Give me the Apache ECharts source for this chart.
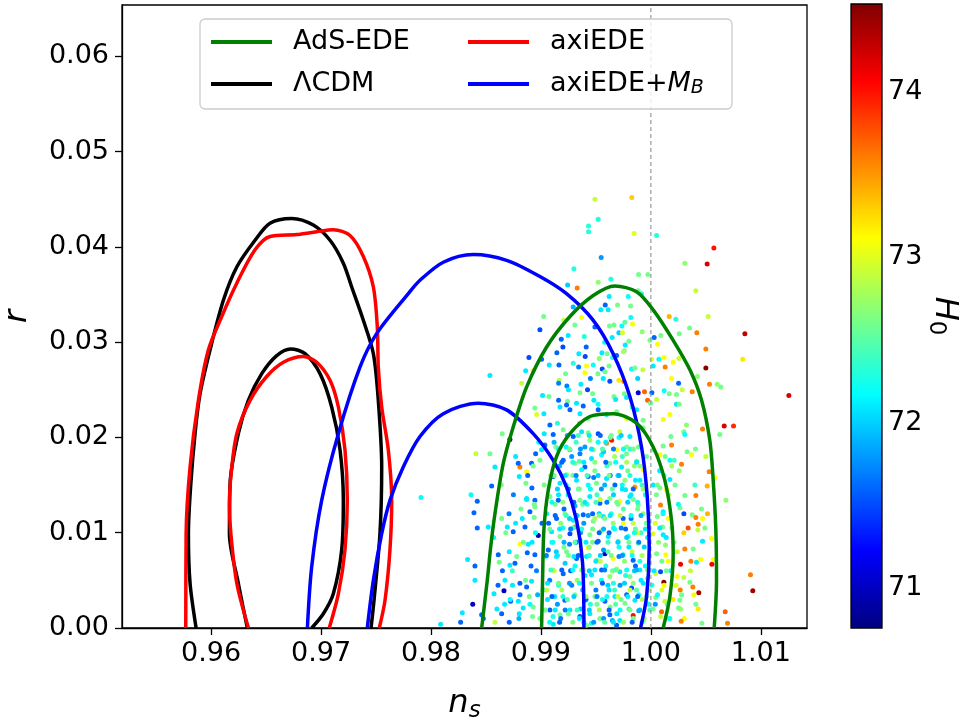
<!DOCTYPE html>
<html>
<head>
<meta charset="utf-8">
<script src="https://cdn.jsdelivr.net/npm/echarts@6/dist/echarts.min.js"></script>
<style>
  html, body { margin: 0; padding: 0; background: #fff; }
  #chart { width: 967px; height: 717px; }
</style>
</head>
<body>
<div id="chart"></div>
<script>
// ---- contour lines [n_s, r] ----
var lcdmOuter = [[0.95864,0],[0.95809,0.0047],[0.95794,0.0099],[0.95815,0.0150],[0.95855,0.0205],[0.95900,0.0246],[0.95991,0.0292],[0.96112,0.0344],[0.96234,0.0379],[0.96400,0.0407],[0.96536,0.0425],[0.96734,0.0430],[0.96930,0.0423],[0.97082,0.0407],[0.97203,0.0383],[0.97279,0.0358],[0.97385,0.0323],[0.97476,0.0288],[0.97521,0.0239],[0.97552,0.0169],[0.97536,0.0099],[0.97482,0.0029],[0.97455,0]];
var lcdmInner = [[0.96330,0],[0.96248,0.0047],[0.96167,0.0099],[0.96173,0.0152],[0.96248,0.0204],[0.96339,0.0239],[0.96461,0.0267],[0.96597,0.0286],[0.96724,0.0293],[0.96855,0.0288],[0.96991,0.0267],[0.97097,0.0232],[0.97173,0.0187],[0.97203,0.0134],[0.97188,0.0082],[0.97112,0.0036],[0.97021,0.0015],[0.96915,0]];
var axiOuter = [[0.95770,0],[0.95773,0.0099],[0.95809,0.0169],[0.95885,0.0239],[0.95976,0.0292],[0.96097,0.0327],[0.96234,0.0362],[0.96400,0.0397],[0.96536,0.0411],[0.96779,0.0413],[0.96961,0.0416],[0.97112,0.0418],[0.97264,0.0412],[0.97385,0.0390],[0.97476,0.0358],[0.97512,0.0316],[0.97521,0.0274],[0.97552,0.0232],[0.97612,0.0187],[0.97643,0.0134],[0.97627,0.0082],[0.97582,0.0029],[0.97530,0]];
var axiInner = [[0.96340,0],[0.96234,0.0047],[0.96180,0.0099],[0.96167,0.0130],[0.96185,0.0165],[0.96234,0.0204],[0.96355,0.0239],[0.96506,0.0264],[0.96658,0.0279],[0.96839,0.0285],[0.96961,0.0279],[0.97082,0.0260],[0.97158,0.0232],[0.97218,0.0187],[0.97239,0.0134],[0.97218,0.0082],[0.97158,0.0036],[0.97075,0]];
var mbOuter = [[0.96876,0],[0.96915,0.0064],[0.97006,0.0134],[0.97158,0.0204],[0.97355,0.0274],[0.97506,0.0309],[0.97794,0.0351],[0.97900,0.0365],[0.98112,0.0384],[0.98385,0.0392],[0.98688,0.0386],[0.98991,0.0369],[0.99233,0.0351],[0.99476,0.0323],[0.99657,0.0288],[0.99809,0.0243],[0.99915,0.0190],[0.99967,0.0138],[0.99985,0.0085],[0.99961,0.0033],[0.99906,0]];
var mbInner = [[0.97421,0],[0.97476,0.0050],[0.97552,0.0099],[0.97627,0.0134],[0.97748,0.0169],[0.97900,0.0201],[0.98112,0.0225],[0.98430,0.0236],[0.98688,0.0229],[0.98930,0.0204],[0.99112,0.0176],[0.99233,0.0148],[0.99324,0.0113],[0.99379,0.0068],[0.99391,0]];
var adsOuter = [[0.98461,0],[0.98512,0.0050],[0.98543,0.0085],[0.98582,0.0120],[0.98658,0.0173],[0.98748,0.0211],[0.98870,0.0253],[0.99052,0.0295],[0.99264,0.0327],[0.99476,0.0349],[0.99673,0.0359],[0.99870,0.0353],[1.00021,0.0334],[1.00203,0.0302],[1.00355,0.0271],[1.00461,0.0239],[1.00536,0.0197],[1.00567,0.0155],[1.00591,0.0103],[1.00597,0.0050],[1.00576,0]];
var adsInner = [[0.99006,0],[0.99015,0.0050],[0.99027,0.0103],[0.99067,0.0145],[0.99142,0.0180],[0.99264,0.0204],[0.99445,0.0222],[0.99657,0.0225],[0.99870,0.0215],[1.00021,0.0190],[1.00127,0.0155],[1.00188,0.0113],[1.00203,0.0078],[1.00173,0.0033],[1.00112,0]];
var vline = [[1.0, 0], [1.0, 0.0654]];

// ---- samples [n_s, r, H0] ----
var ptsTop = [
[0.99491,0.0450,72.9],[0.99827,0.0452,73.3],[0.99521,0.0429,72.3],[0.99433,0.0422,72.3],[0.99433,0.0416,72.3],[0.99848,0.0414,73.0],
[0.99548,0.0389,71.8],[0.99300,0.0377,72.3],[0.99243,0.0360,72.0],[0.99330,0.0357,73.6],[0.99521,0.0363,72.7],[0.99636,0.0366,72.3],
[0.99888,0.0371,72.6],[0.99973,0.0371,72.6],[0.99621,0.0348,72.1],[0.99585,0.0339,71.6],[0.99545,0.0334,72.1],[0.99612,0.0334,72.1],
[0.99697,0.0339,72.6],[0.99815,0.0338,72.6],[0.99915,0.0351,72.2],[0.99794,0.0348,72.2],[0.99818,0.0326,72.2],[0.99294,0.0337,71.9],
[0.99025,0.0327,72.6],[0.99209,0.0323,72.9],[0.99370,0.0326,73.1],[0.99309,0.0318,72.6],[0.98991,0.0313,71.5],[0.99248,0.0307,72.1],
[0.99394,0.0306,72.3],[0.99491,0.0316,71.6],[0.99624,0.0317,72.6],[0.99664,0.0318,72.6],[0.99736,0.0317,72.2],[0.99764,0.0321,72.5],
[0.99833,0.0319,73.1],[0.99709,0.0310,72.0],[0.99648,0.0305,72.1],[0.99742,0.0310,73.0],[0.99921,0.0311,72.7],[0.99991,0.0302,72.6],
[0.99185,0.0303,71.6],[0.99200,0.0295,71.5],[0.99145,0.0289,71.6],[0.99412,0.0295,71.6],[0.99403,0.0285,71.5],[0.99345,0.0288,72.1],
[0.98891,0.0284,71.5],[0.99006,0.0282,71.6],[0.98861,0.0270,72.1],[0.98930,0.0270,73.2],[0.99076,0.0276,72.1],[0.99164,0.0276,71.6],
[0.99294,0.0278,72.3],[0.99343,0.0274,71.7],[0.99415,0.0275,73.1],[0.99476,0.0276,72.2],[0.99530,0.0283,72.7],[0.99555,0.0289,72.1],
[0.99603,0.0288,72.6],[0.99652,0.0284,72.3],[0.99688,0.0286,71.6],[0.99767,0.0297,72.1],[0.99758,0.0291,72.6],[0.99800,0.0301,72.6],
[0.99558,0.0272,71.5],[0.99582,0.0269,72.6],[0.99518,0.0267,72.6],[0.99400,0.0268,73.1],[0.99567,0.0262,72.1],[0.99627,0.0259,71.5],
[0.99709,0.0260,73.2],[0.99755,0.0259,73.6],[0.99824,0.0272,72.2],[0.99927,0.0271,72.9],[0.99166,0.0260,72.8],[0.99224,0.0267,72.6],
[0.99161,0.0257,71.7],[0.99236,0.0254,71.7],[0.99364,0.0256,72.1],[0.99424,0.0250,71.5],[0.99470,0.0246,72.6],[0.99355,0.0247,72.6],
[0.99015,0.0244,72.1],[0.99073,0.0243,72.6],[0.99161,0.0239,71.6],[0.99242,0.0238,72.6],[0.98536,0.0265,72.1],[0.98825,0.0257,72.9],
[0.99324,0.0236,72.1],[0.99385,0.0233,71.6],[0.99482,0.0239,72.1],[0.99664,0.0243,72.6],[0.99758,0.0246,72.6],[0.99779,0.0242,72.1],
[0.99885,0.0247,71.1],[0.99942,0.0248,73.7],[0.99970,0.0239,73.7],
[0.9915,0.0215,72.3],[0.9925,0.0250,72.1],[0.9935,0.0215,72.6],[0.9945,0.0262,71.7],[0.9952,0.0235,72.2],[0.9962,0.0275,72.6],
[0.9968,0.0240,72.1],[0.9975,0.0290,72.8],[0.9983,0.0232,72.4],[0.9988,0.0262,72.0],[0.9993,0.0210,72.6],[0.9958,0.0300,72.2]
];
var ptsRight = [
[1.00052,0.0412,72.3],[1.00573,0.0399,74.0],[1.00512,0.0382,74.2],[1.00309,0.0383,72.7],[1.00409,0.0354,72.9],[0.99885,0.0354,72.6],
[1.00167,0.0327,73.4],[1.00227,0.0324,72.3],[1.00521,0.0327,72.9],[1.00352,0.0315,72.6],[1.00418,0.0310,73.6],[1.00258,0.0309,72.6],
[1.00091,0.0307,72.6],[1.00030,0.0305,71.6],[1.00855,0.0309,74.3],[1.00500,0.0293,73.6],[1.00061,0.0298,73.1],[1.00500,0.0273,74.5],
[1.00836,0.0282,73.2],[1.00255,0.0283,72.9],[1.00121,0.0284,73.1],[1.00130,0.0274,73.6],[1.00203,0.0279,73.1],[1.00073,0.0282,72.2],
[1.00006,0.0282,73.0],[1.00021,0.0275,72.1],[0.99855,0.0273,72.6],[1.00188,0.0262,73.1],[1.00252,0.0257,71.6],[1.00424,0.0264,72.7],
[1.00533,0.0256,73.6],[1.00603,0.0256,72.7],[1.00636,0.0253,72.6],[1.00376,0.0248,73.6],[1.00285,0.0250,72.9],[1.00121,0.0249,72.2],
[1.00167,0.0246,72.6],[1.00233,0.0245,72.6],[1.00009,0.0247,71.6],[1.00052,0.0240,72.9],[0.99997,0.0236,72.6],[1.00233,0.0235,72.1],
[1.01255,0.0244,74.2],
[1.00667,0.0212,74.2],[1.00752,0.0212,73.9],[1.00627,0.0203,72.6],[1.00470,0.0209,73.6],[1.00324,0.0213,72.7],[1.00300,0.0206,72.6],
[1.00309,0.0203,72.2],[1.00258,0.0235,72.6],[1.00173,0.0224,73.1],[1.00112,0.0219,73.1],[1.00182,0.0201,72.6],[1.00188,0.0192,73.6],
[1.00112,0.0191,72.6],[1.00082,0.0182,73.1],[1.00021,0.0187,72.6],[1.00173,0.0176,72.2],[1.00212,0.0176,72.4],[1.00279,0.0172,73.6],
[1.00258,0.0165,72.7],[1.00406,0.0188,72.6],[1.00370,0.0182,73.1],[1.00500,0.0180,72.9],[1.00530,0.0164,73.6],[1.00512,0.0149,73.4],
[1.00582,0.0158,73.1],[1.00682,0.0134,72.7],[1.00409,0.0139,73.6],[1.00309,0.0139,72.6],[1.00173,0.0156,72.1],[1.00143,0.0145,73.1],
[1.00088,0.0129,73.6],[1.00264,0.0126,72.6],[1.00300,0.0120,71.5],[1.00376,0.0119,72.6],[1.00409,0.0116,73.6],[1.00430,0.0109,73.6],
[1.00515,0.0120,73.4],[1.00470,0.0115,73.1],[1.00339,0.0105,73.8],[1.00427,0.0103,72.9],[1.00491,0.0105,72.6],[1.00470,0.0091,72.1],
[1.00552,0.0094,73.1],[1.00309,0.0083,73.6],[1.00385,0.0083,72.6],[1.00270,0.0067,74.1],[1.00364,0.0070,73.6],[1.00415,0.0069,72.1],
[1.00452,0.0072,73.1],[1.00555,0.0067,74.1],[1.00567,0.0072,73.1],[1.00239,0.0054,73.1],[1.00300,0.0053,72.9],[1.00355,0.0048,72.6],
[1.00382,0.0043,73.6],[1.00436,0.0037,74.4],[1.00391,0.0035,73.1],[1.00267,0.0040,73.6],[1.00279,0.0035,72.6],[1.00409,0.0025,72.6],
[1.00264,0.0029,72.6],[1.00252,0.0021,72.6],[1.00303,0.0010,73.1],[1.00276,0.0007,73.6],[1.00464,0.0005,72.6],[1.00676,0.0017,73.7],
[1.00697,0.0005,73.6],[1.00906,0.0056,73.6],[1.00927,0.0039,74.4],[1.00118,0.0048,74.5],[1.00088,0.0059,71.5],[1.00043,0.0057,73.0],
[1.00097,0.0017,73.7],[1.00127,0.0028,72.9],[1.00173,0.0010,72.6],[1.00045,0.0032,72.6],[1.00052,0.0078,72.6],[1.00136,0.0077,73.1],
[1.00158,0.0070,73.1],[1.00133,0.0087,72.7],[1.00112,0.0098,72.1],[1.00106,0.0106,72.6],[1.00021,0.0099,73.0],[1.00058,0.0117,72.6],
[1.00112,0.0122,72.1],[1.00021,0.0150,72.1],[1.00082,0.0147,72.6],
[1.0002,0.0020,72.6],[1.0003,0.0060,72.1],[1.0004,0.0110,73.0],[1.0005,0.0140,72.6],[1.0006,0.0035,72.2],[1.0007,0.0090,72.7],
[1.0008,0.0165,72.1],[1.0009,0.0012,72.9],[1.0010,0.0070,72.6],[1.0011,0.0120,72.2],[1.0012,0.0045,73.1],[1.0013,0.0180,72.6],
[1.0014,0.0095,72.1],[1.0015,0.0025,72.6],[1.0016,0.0140,72.8],[1.0018,0.0060,72.2],[1.0019,0.0105,72.6],[1.0020,0.0030,73.2],
[1.0022,0.0150,72.6],[1.0024,0.0080,72.9],
[1.0001,0.0045,72.3],[1.0004,0.0025,71.8],[1.0006,0.0150,72.6],[1.0008,0.0105,72.1],[1.0010,0.0040,73.0],[1.0012,0.0160,72.4],
[1.0014,0.0060,72.6],[1.0016,0.0115,73.1],[1.0017,0.0010,72.2],[1.0019,0.0170,72.8],[1.0021,0.0090,72.6],[1.0023,0.0045,73.0],
[1.0025,0.0130,72.2],[1.0027,0.0020,72.7],[1.0030,0.0100,73.3],[1.0033,0.0185,72.6],[1.0036,0.0060,72.9],[1.0040,0.0150,72.4],
[1.0043,0.0020,73.2],[1.0046,0.0125,72.6]
];
var ptsLeft = [
[0.97909,0.0137,72.2],[0.98088,0.0004,72.1],[0.98270,0.0006,71.6],[0.98285,0.0016,72.1],[0.98333,0.0072,72.1],[0.98552,0.0149,71.6],
[0.98521,0.0106,72.1],[0.98461,0.0014,71.6],
[0.98648,0.0204,72.6],[0.98409,0.0183,72.9],[0.98536,0.0183,72.6],[0.98582,0.0169,72.1],[0.98364,0.0140,72.2],[0.98421,0.0133,71.6],
[0.98391,0.0121,71.6],[0.98421,0.0105,71.6],[0.98400,0.0065,71.6],[0.98400,0.0050,72.1],[0.98380,0.0025,71.0],[0.98476,0.0010,71.6],
[0.98573,0.0036,72.1],[0.98664,0.0039,71.0],[0.98643,0.0015,71.6],[0.98582,0.0006,72.9],[0.98712,0.0006,71.6],[0.98803,0.0015,72.1],
[0.98724,0.0028,71.6],[0.98794,0.0028,72.1],[0.98673,0.0050,72.1],[0.98742,0.0045,72.1],[0.98809,0.0047,71.6],[0.98870,0.0043,71.6],
[0.98915,0.0049,72.1],[0.98894,0.0033,72.6],[0.98930,0.0022,72.6],[0.98839,0.0021,72.1],[0.98924,0.0012,72.6],[0.98621,0.0069,72.6],
[0.98718,0.0066,72.1],[0.98764,0.0068,71.6],[0.98612,0.0077,71.6],[0.98712,0.0080,72.1],[0.98809,0.0088,73.1],[0.98885,0.0088,72.1],
[0.98876,0.0079,71.6],[0.98945,0.0077,71.6],[0.98976,0.0097,71.0],[0.98855,0.0106,71.6],[0.98748,0.0101,71.6],[0.98770,0.0110,72.1],
[0.98694,0.0106,72.1],[0.98643,0.0115,72.6],[0.98900,0.0122,71.6],[0.98939,0.0116,72.6],[0.98945,0.0127,72.6],[0.98818,0.0125,72.6],
[0.98870,0.0136,72.1],[0.98945,0.0134,71.6],[0.98918,0.0147,71.6],[0.98864,0.0152,72.6],[0.98803,0.0159,72.1],[0.98809,0.0169,73.6],
[0.98870,0.0164,73.1],[0.98915,0.0173,71.6],[0.98952,0.0183,71.6],[0.98991,0.0176,72.6],[0.99006,0.0187,72.1],[0.99036,0.0192,71.6],
[0.99030,0.0204,72.1],[0.99082,0.0213,71.6],[0.99027,0.0225,72.1],[0.98961,0.0224,73.0],[0.98945,0.0231,72.6],[0.98718,0.0198,71.0],
[0.98794,0.0173,71.6],[0.99173,0.0232,72.1],[0.99233,0.0234,71.6],[0.99112,0.0203,71.6],[0.99136,0.0190,72.6],
[0.9860,0.0020,72.1],[0.9865,0.0060,71.6],[0.9868,0.0100,72.6],[0.9872,0.0030,72.2],[0.9875,0.0140,71.7],[0.9878,0.0075,72.6],
[0.9880,0.0010,71.9],[0.9883,0.0115,72.1],[0.9886,0.0050,72.6],[0.9888,0.0160,71.6],[0.9890,0.0025,72.2],[0.9892,0.0090,72.1],
[0.9894,0.0130,72.6],[0.9896,0.0060,71.7],[0.9898,0.0195,72.2],[0.9899,0.0010,72.6],[0.9901,0.0110,71.6],[0.9902,0.0040,72.1],
[0.9903,0.0150,72.6],[0.9904,0.0075,72.3],
[0.9857,0.0095,72.2],[0.9861,0.0045,71.6],[0.9864,0.0150,72.6],[0.9867,0.0025,72.1],[0.9871,0.0120,71.7],[0.9874,0.0060,72.4],
[0.9877,0.0180,72.1],[0.9881,0.0035,71.6],[0.9884,0.0090,72.6],[0.9887,0.0135,72.1],[0.9891,0.0065,71.6],[0.9893,0.0170,72.6],
[0.9895,0.0100,72.2],[0.9897,0.0035,71.9]
];
var ptsCore = [
[0.99264,0.0229,71.6],[0.99355,0.0225,72.1],[0.99430,0.0220,72.6],[0.99521,0.0229,71.6],[0.99597,0.0224,72.1],[0.99688,0.0227,72.6],
[0.99779,0.0220,73.0],[0.99870,0.0229,72.1],[0.99930,0.0218,72.6],[0.99597,0.0194,73.6],[0.99643,0.0197,74.0],
[0.99203,0.0208,72.6],[0.99294,0.0201,71.6],[0.99370,0.0206,72.1],[0.99445,0.0197,72.7],[0.99521,0.0204,71.5],[0.99718,0.0206,72.9],
[0.99809,0.0201,72.1],[0.99885,0.0190,72.6],[0.99264,0.0187,72.1],[0.99355,0.0183,71.7],[0.99476,0.0187,72.6],[0.99552,0.0182,72.2],
[0.99688,0.0187,73.1],[0.99779,0.0183,72.6],[0.99203,0.0176,71.6],[0.99309,0.0173,72.6],[0.99400,0.0169,71.6],[0.99627,0.0173,72.6],
[0.99733,0.0169,72.1],[0.99870,0.0175,72.6],[0.99930,0.0166,73.1],
[0.99112,0.0159,71.6],[0.99173,0.0152,72.1],[0.99233,0.0161,72.6],[0.99324,0.0155,72.1],[0.99430,0.0159,71.6],[0.99506,0.0152,72.6],
[0.99597,0.0157,72.1],[0.99673,0.0150,71.6],[0.99764,0.0155,72.7],[0.99855,0.0148,73.5],[0.99900,0.0155,72.1],[0.99082,0.0138,72.6],
[0.99158,0.0134,71.6],[0.99248,0.0140,72.1],[0.99355,0.0134,72.6],[0.99445,0.0138,72.1],[0.99536,0.0131,71.6],[0.99627,0.0136,72.6],
[0.99718,0.0133,73.1],[0.99809,0.0138,72.1],[0.99885,0.0129,72.6],
[0.99052,0.0120,72.1],[0.99142,0.0115,71.6],[0.99218,0.0120,72.6],[0.99294,0.0113,72.1],[0.99385,0.0119,71.6],[0.99476,0.0112,72.6],
[0.99567,0.0117,72.1],[0.99657,0.0110,72.7],[0.99748,0.0115,71.6],[0.99839,0.0110,72.9],[0.99309,0.0106,73.5],[0.99097,0.0101,72.1],
[0.99173,0.0096,72.6],[0.99264,0.0099,71.5],[0.99355,0.0092,72.1],[0.99445,0.0098,72.6],[0.99521,0.0091,71.6],[0.99612,0.0096,72.1],
[0.99703,0.0091,72.6],[0.99794,0.0096,72.2],[0.99885,0.0089,72.6],[0.99582,0.0078,71.0],[0.99430,0.0084,73.1],
[0.99067,0.0082,71.6],[0.99142,0.0075,72.1],[0.99233,0.0080,72.6],[0.99324,0.0073,71.6],[0.99415,0.0075,72.1],[0.99506,0.0071,72.6],
[0.99657,0.0073,73.1],[0.99748,0.0077,72.1],[0.99839,0.0071,71.6],[0.99112,0.0061,72.6],[0.99203,0.0057,71.6],[0.99264,0.0047,73.1],
[0.99370,0.0061,72.6],[0.99460,0.0056,72.1],[0.99552,0.0061,71.6],[0.99627,0.0054,72.7],[0.99718,0.0059,72.1],[0.99809,0.0054,72.6],
[0.99824,0.0042,71.5],[0.99900,0.0061,72.1],
[0.99052,0.0040,72.9],[0.99127,0.0033,72.1],[0.99218,0.0029,71.6],[0.99309,0.0035,72.6],[0.99400,0.0029,72.1],[0.99491,0.0033,72.6],
[0.99582,0.0028,71.6],[0.99673,0.0033,72.1],[0.99764,0.0026,72.6],[0.99855,0.0029,72.1],[0.99082,0.0019,71.6],[0.99173,0.0014,72.6],
[0.99264,0.0019,72.1],[0.99355,0.0012,71.6],[0.99445,0.0015,72.1],[0.99536,0.0010,72.6],[0.99627,0.0014,71.6],[0.99718,0.0008,72.1],
[0.99839,0.0013,74.0],[0.99930,0.0008,72.6],[0.99112,0.0004,72.1],[0.99415,0.0003,72.6],[0.99688,0.0003,71.6],
[0.9911,0.0012,72.3],[0.9915,0.0025,71.8],[0.9919,0.0040,72.8],[0.9922,0.0068,72.0],[0.9926,0.0088,71.7],[0.9929,0.0105,72.4],
[0.9931,0.0128,71.9],[0.9934,0.0146,72.5],[0.9937,0.0166,72.2],[0.9940,0.0190,71.8],[0.9943,0.0205,72.6],[0.9946,0.0178,72.1],
[0.9948,0.0158,71.7],[0.9951,0.0140,72.4],[0.9953,0.0120,72.0],[0.9955,0.0102,72.7],[0.9957,0.0082,71.8],[0.9959,0.0065,72.3],
[0.9961,0.0045,72.0],[0.9963,0.0022,72.6],[0.9965,0.0008,71.9],[0.9967,0.0040,72.4],[0.9969,0.0062,72.8],[0.9971,0.0085,72.2],
[0.9973,0.0105,71.7],[0.9975,0.0125,72.5],[0.9977,0.0145,72.1],[0.9979,0.0165,72.6],[0.9981,0.0188,72.3],[0.9983,0.0080,72.9],
[0.9985,0.0060,72.0],[0.9987,0.0040,72.5],[0.9989,0.0018,71.8],[0.9991,0.0100,72.4],[0.9993,0.0120,72.7],[0.9995,0.0140,72.2],
[0.9997,0.0052,72.6],[0.9908,0.0050,71.7],[0.9910,0.0090,72.2],[0.9913,0.0130,72.6],[0.9917,0.0170,71.9],[0.9920,0.0105,72.2],
[0.9924,0.0030,72.5],[0.9927,0.0060,71.6],[0.9930,0.0075,72.1],[0.9933,0.0050,72.7],[0.9936,0.0020,72.0],[0.9939,0.0110,71.8],
[0.9942,0.0130,72.3],[0.9944,0.0060,72.0],[0.9947,0.0090,72.6],[0.9950,0.0040,71.7],[0.9952,0.0195,72.2],[0.9954,0.0070,72.9],
[0.9956,0.0030,72.2],[0.9958,0.0150,71.9],[0.9960,0.0170,72.4],[0.9962,0.0100,71.6],[0.9964,0.0120,72.3],[0.9966,0.0140,72.0],
[0.9968,0.0025,72.5],[0.9970,0.0160,72.1],[0.9972,0.0045,71.8],[0.9974,0.0180,72.4],[0.9976,0.0070,72.7],[0.9978,0.0095,72.0],
[0.9980,0.0020,72.3],[0.9982,0.0115,71.7],[0.9984,0.0135,72.6],[0.9986,0.0155,72.1],[0.9988,0.0100,73.0],[0.9990,0.0070,72.3],
[0.9992,0.0030,72.8],[0.9994,0.0085,72.0],[0.9996,0.0110,72.5],[0.9998,0.0025,72.2],[0.9914,0.0080,72.0],[0.9918,0.0110,72.7],
[0.9923,0.0150,72.2],[0.9928,0.0180,71.8],[0.9932,0.0195,72.4],[0.9938,0.0040,71.9],[0.9945,0.0025,72.3],[0.9949,0.0115,72.8],
[0.9957,0.0185,72.0],[0.9963,0.0200,72.5],[0.9971,0.0200,72.2],[0.9978,0.0035,71.6],[0.9985,0.0170,72.7],
[0.9906,0.0030,72.1],[0.9907,0.0110,71.6],[0.9909,0.0160,72.6],[0.9912,0.0060,72.9],[0.9912,0.0195,71.9],[0.9916,0.0045,72.3],
[0.9916,0.0140,72.1],[0.9918,0.0010,71.7],[0.9921,0.0085,72.6],[0.9921,0.0125,71.6],[0.9923,0.0190,72.2],[0.9925,0.0015,72.6],
[0.9926,0.0115,72.0],[0.9928,0.0045,71.7],[0.9929,0.0160,72.6],[0.9931,0.0065,72.2],[0.9932,0.0090,71.6],[0.9935,0.0010,72.1],
[0.9935,0.0175,72.5],[0.9936,0.0100,71.8],[0.9938,0.0130,72.6],[0.9940,0.0055,72.1],[0.9941,0.0030,71.6],[0.9943,0.0150,72.2],
[0.9944,0.0085,72.7],[0.9946,0.0005,72.2],[0.9947,0.0120,71.6],[0.9949,0.0165,72.6],[0.9950,0.0070,72.1],[0.9951,0.0025,72.6],
[0.9953,0.0100,71.6],[0.9954,0.0135,72.9],[0.9955,0.0050,72.2],[0.9957,0.0010,71.8],[0.9958,0.0115,72.6],[0.9959,0.0195,72.1],
[0.9961,0.0080,72.5],[0.9962,0.0040,72.1],[0.9963,0.0160,71.6],[0.9965,0.0060,72.6],[0.9966,0.0105,72.2],[0.9967,0.0180,72.8],
[0.9969,0.0015,72.1],[0.9970,0.0130,72.6],[0.9971,0.0075,71.7],[0.9973,0.0030,72.6],[0.9974,0.0150,72.2],[0.9975,0.0110,73.1],
[0.9977,0.0055,72.3],[0.9978,0.0190,72.6],[0.9980,0.0085,72.1],[0.9981,0.0040,72.9],[0.9982,0.0140,72.1],[0.9984,0.0010,72.6],
[0.9985,0.0100,72.2],[0.9986,0.0065,71.6],[0.9988,0.0125,72.6],[0.9989,0.0035,72.2],[0.9990,0.0170,72.7],[0.9991,0.0050,72.1],
[0.9992,0.0150,72.4],[0.9994,0.0010,72.8],[0.9995,0.0065,72.2],[0.9996,0.0180,72.6],[0.9997,0.0095,72.1],[0.9998,0.0040,72.9]
];
var ptsDense = [
[0.9908,0.0006,72.2],[0.9917,0.0006,71.6],[0.9929,0.0006,72.6],[0.9939,0.0006,72.1],[0.9948,0.0006,71.8],[0.9958,0.0006,72.5],[0.9966,0.0006,72.1],[0.9975,0.0006,72.7],[0.9983,0.0006,71.6],[0.9992,0.0006,72.3],
[0.9904,0.0019,72.6],[0.9913,0.0019,72.1],[0.9922,0.0019,71.7],[0.9933,0.0019,72.4],[0.9944,0.0019,72.0],[0.9953,0.0019,72.8],[0.9962,0.0019,71.6],[0.9972,0.0019,72.2],[0.9981,0.0019,72.6],[0.9990,0.0019,71.9],[0.9999,0.0019,72.4],
[0.9910,0.0033,71.6],[0.9920,0.0033,72.3],[0.9930,0.0033,72.0],[0.9941,0.0033,72.7],[0.9951,0.0033,71.7],[0.9960,0.0033,72.2],[0.9970,0.0033,72.9],[0.9979,0.0033,72.1],[0.9988,0.0033,71.6],[0.9996,0.0033,72.6],
[0.9906,0.0047,72.1],[0.9916,0.0047,72.6],[0.9926,0.0047,71.8],[0.9935,0.0047,72.2],[0.9946,0.0047,72.6],[0.9956,0.0047,71.6],[0.9966,0.0047,72.3],[0.9976,0.0047,72.0],[0.9984,0.0047,72.7],[0.9993,0.0047,72.1],
[0.9909,0.0061,72.4],[0.9919,0.0061,71.6],[0.9929,0.0061,72.2],[0.9939,0.0061,72.9],[0.9949,0.0061,72.1],[0.9958,0.0061,71.7],[0.9968,0.0061,72.5],[0.9978,0.0061,72.2],[0.9987,0.0061,71.9],[0.9997,0.0061,72.6],
[0.9905,0.0076,71.7],[0.9915,0.0076,72.1],[0.9925,0.0076,72.6],[0.9934,0.0076,71.6],[0.9944,0.0076,72.3],[0.9954,0.0076,72.0],[0.9964,0.0076,72.6],[0.9974,0.0076,71.8],[0.9983,0.0076,72.2],[0.9992,0.0076,72.8],
[0.9911,0.0090,72.2],[0.9921,0.0090,71.9],[0.9931,0.0090,72.5],[0.9941,0.0090,72.1],[0.9951,0.0090,71.6],[0.9961,0.0090,72.4],[0.9970,0.0090,72.0],[0.9980,0.0090,72.6],[0.9989,0.0090,71.7],
[0.9908,0.0104,72.6],[0.9917,0.0104,72.1],[0.9927,0.0104,71.7],[0.9937,0.0104,72.3],[0.9947,0.0104,72.6],[0.9957,0.0104,71.9],[0.9967,0.0104,72.2],[0.9977,0.0104,71.6],[0.9986,0.0104,72.5],[0.9995,0.0104,72.1],
[0.9913,0.0118,71.6],[0.9923,0.0118,72.4],[0.9933,0.0118,72.0],[0.9943,0.0118,71.8],[0.9953,0.0118,72.6],[0.9963,0.0118,72.1],[0.9972,0.0118,72.9],[0.9982,0.0118,72.2],[0.9991,0.0118,71.9],
[0.9910,0.0132,72.2],[0.9920,0.0132,72.7],[0.9930,0.0132,71.6],[0.9940,0.0132,72.1],[0.9950,0.0132,72.4],[0.9960,0.0132,71.7],[0.9969,0.0132,72.6],[0.9979,0.0132,72.0],[0.9988,0.0132,72.3],
[0.9915,0.0146,72.0],[0.9925,0.0146,71.6],[0.9935,0.0146,72.6],[0.9945,0.0146,72.2],[0.9955,0.0146,71.8],[0.9965,0.0146,72.5],[0.9974,0.0146,72.1],[0.9984,0.0146,71.6],[0.9993,0.0146,72.7],
[0.9912,0.0160,72.6],[0.9922,0.0160,72.1],[0.9932,0.0160,71.7],[0.9942,0.0160,72.4],[0.9952,0.0160,72.0],[0.9962,0.0160,72.6],[0.9971,0.0160,71.9],[0.9981,0.0160,72.3],
[0.9919,0.0174,71.6],[0.9929,0.0174,72.3],[0.9939,0.0174,72.1],[0.9949,0.0174,72.7],[0.9959,0.0174,71.6],[0.9968,0.0174,72.2],[0.9978,0.0174,72.8],[0.9987,0.0174,72.1],
[0.9916,0.0188,72.2],[0.9926,0.0188,72.6],[0.9936,0.0188,71.8],[0.9946,0.0188,72.1],[0.9956,0.0188,72.5],[0.9966,0.0188,71.7],[0.9975,0.0188,72.2],[0.9984,0.0188,72.6],
[0.9924,0.0202,71.9],[0.9934,0.0202,72.4],[0.9944,0.0202,72.1],[0.9954,0.0202,71.6],[0.9964,0.0202,72.6],[0.9973,0.0202,72.0]
];

// ---- axes ----
var xTicks = [0.96, 0.97, 0.98, 0.99, 1.00, 1.01];
var yTicks = [0, 0.01, 0.02, 0.03, 0.04, 0.05, 0.06];
var cbTicks = [71, 72, 73, 74];
var xRange = [0.9519, 1.0142];
var yRange = [0, 0.0654];
var cbRange = [70.758, 74.532];

// matplotlib jet
function jet(t) {
  function c(v) { return Math.max(0, Math.min(1, v)); }
  var r = c(1.5 - Math.abs(4 * t - 3));
  var g = c(1.5 - Math.abs(4 * t - 2));
  var b = c(1.5 - Math.abs(4 * t - 1));
  return 'rgb(' + Math.round(r * 255) + ',' + Math.round(g * 255) + ',' + Math.round(b * 255) + ')';
}
var jetColors = [];
var jetStops = [];
for (var i = 0; i <= 32; i++) {
  jetColors.push(jet(i / 32));
  jetStops.push({ offset: i / 32, color: jet(1 - i / 32) });
}

var FONT = 'DejaVu Sans';
var FS = 27;
var chart = echarts.init(document.getElementById('chart'));

function contour(name, color, data) {
  return {
    name: name, type: 'line', data: data, color: color,
    showSymbol: false, symbol: 'none', smooth: 0.3, z: 5,
    lineStyle: { color: color, width: 3.5 }, silent: true, animation: false
  };
}

var allPts = ptsTop.concat(ptsRight, ptsLeft, ptsCore, ptsDense);

var legendText = {
  fontFamily: FONT, fontSize: FS, color: '#000', lineHeight: 28, padding: [0, 0, 0, 16],
  rich: {
    a: { fontFamily: FONT, fontSize: FS, color: '#000', lineHeight: 28 },
    m: { fontFamily: FONT, fontSize: FS, fontStyle: 'italic', color: '#000', lineHeight: 28 },
    b: { fontFamily: FONT, fontSize: 19, fontStyle: 'italic', color: '#000', verticalAlign: 'bottom', padding: [13, 0, 0, 0] }
  }
};

var option = {
  animation: false,
  textStyle: { fontFamily: FONT },
  grid: [
    { left: 122, top: 5, width: 685, height: 623, outerBoundsMode: 'none', containLabel: false,
      show: true, borderColor: '#000', borderWidth: 1.3, backgroundColor: 'transparent' },
    { left: 851, top: 4, width: 31, height: 624, outerBoundsMode: 'none', containLabel: false }
  ],
  xAxis: [
    {
      type: 'value', min: xRange[0], max: xRange[1], gridIndex: 0,
      name: '{i|n}{s|s}', nameLocation: 'middle', nameGap: 56,
      nameTextStyle: { rich: {
        i: { fontFamily: FONT, fontStyle: 'italic', fontSize: 32, color: '#000' },
        s: { fontFamily: FONT, fontStyle: 'italic', fontSize: 23, color: '#000', verticalAlign: 'bottom', padding: [16, 0, 0, 0] }
      } },
      axisLine: { show: true, onZero: false, lineStyle: { color: '#000', width: 1.3 } },
      axisTick: { show: true, length: 7, customValues: xTicks, lineStyle: { color: '#000', width: 1.3 } },
      axisLabel: { customValues: xTicks, fontSize: FS, color: '#000', margin: 12, formatter: function (v) { return v.toFixed(2); } },
      splitLine: { show: false }
    },
    { type: 'value', gridIndex: 1, min: 0, max: 1, show: false }
  ],
  yAxis: [
    {
      type: 'value', min: yRange[0], max: yRange[1], gridIndex: 0,
      name: 'r', nameLocation: 'middle', nameGap: 88, nameRotate: 90,
      nameTextStyle: { fontFamily: FONT, fontStyle: 'italic', fontSize: 32, color: '#000' },
      axisLine: { show: true, onZero: false, lineStyle: { color: '#000', width: 1.3 } },
      axisTick: { show: true, length: 7, customValues: yTicks, lineStyle: { color: '#000', width: 1.3 } },
      axisLabel: { customValues: yTicks, fontSize: FS, color: '#000', margin: 13, formatter: function (v) { return v.toFixed(2); } },
      splitLine: { show: false }
    },
    {
      type: 'value', gridIndex: 1, position: 'right', min: cbRange[0], max: cbRange[1],
      axisLine: { show: false },
      axisTick: { show: true, length: 7, customValues: cbTicks, lineStyle: { color: '#000', width: 1.3 } },
      axisLabel: { customValues: cbTicks, fontSize: FS, color: '#000', margin: 6 },
      splitLine: { show: false }
    }
  ],
  visualMap: {
    type: 'continuous', show: false, min: cbRange[0], max: cbRange[1],
    dimension: 2, seriesIndex: 0, inRange: { color: jetColors }
  },
  legend: [
    {
      data: ['AdS-EDE', 'ΛCDM'], orient: 'vertical', left: 211, top: 28, padding: 0, z: 20,
      icon: 'rect', itemWidth: 61, itemHeight: 4, itemGap: 14,
      textStyle: legendText
    },
    {
      data: ['axiEDE', 'axiEDE+M_B'], orient: 'vertical', left: 468, top: 28, padding: 0, z: 20,
      icon: 'rect', itemWidth: 61, itemHeight: 4, itemGap: 14,
      formatter: function (name) { return name === 'axiEDE+M_B' ? '{a|axiEDE+}{m|M}{b|B}' : name; },
      textStyle: legendText
    }
  ],
  graphic: [
    { type: 'rect', z: 10, shape: { x: 200, y: 19, width: 532, height: 90, r: 5 },
      style: { fill: 'rgba(255,255,255,0.8)', stroke: '#cccccc', lineWidth: 1.3 }, silent: true },
    { type: 'text', x: 944, y: 316, rotation: -Math.PI / 2,
      style: {
        text: '{h|H}{s|0}', align: 'center', verticalAlign: 'middle',
        rich: {
          h: { fontFamily: FONT, fontStyle: 'italic', fontSize: 32, fill: '#000' },
          s: { fontFamily: FONT, fontSize: 23, fill: '#000', verticalAlign: 'bottom', padding: [16, 0, 0, 0] }
        }
      } }
  ],
  series: [
    {
      name: 'samples', type: 'scatter', data: allPts, symbolSize: 5, z: 2,
      itemStyle: { opacity: 1 }, silent: true
    },
    {
      name: 'vline', type: 'line', data: vline, showSymbol: false, symbol: 'none', z: 3, silent: true,
      lineStyle: { color: '#999', width: 1.2, type: [4, 3] }
    },
    contour('ΛCDM', '#000000', lcdmOuter),
    contour('ΛCDM', '#000000', lcdmInner),
    contour('axiEDE', '#ff0000', axiOuter),
    contour('axiEDE', '#ff0000', axiInner),
    contour('axiEDE+M_B', '#0000ff', mbOuter),
    contour('axiEDE+M_B', '#0000ff', mbInner),
    contour('AdS-EDE', '#008000', adsOuter),
    contour('AdS-EDE', '#008000', adsInner),
    {
      name: 'colorbar', type: 'custom', xAxisIndex: 1, yAxisIndex: 1, silent: true,
      data: [[0, cbRange[0], 1, cbRange[1]]],
      renderItem: function (params, api) {
        var p0 = api.coord([api.value(0), api.value(1)]);
        var p1 = api.coord([api.value(2), api.value(3)]);
        return {
          type: 'rect',
          shape: { x: p0[0], y: p1[1], width: p1[0] - p0[0], height: p0[1] - p1[1] },
          style: { fill: new echarts.graphic.LinearGradient(0, 0, 0, 1, jetStops), stroke: '#000', lineWidth: 1.3 }
        };
      }
    }
  ]
};

chart.setOption(option);
window.onresize = function () { chart.resize(); };
</script>
</body>
</html>
